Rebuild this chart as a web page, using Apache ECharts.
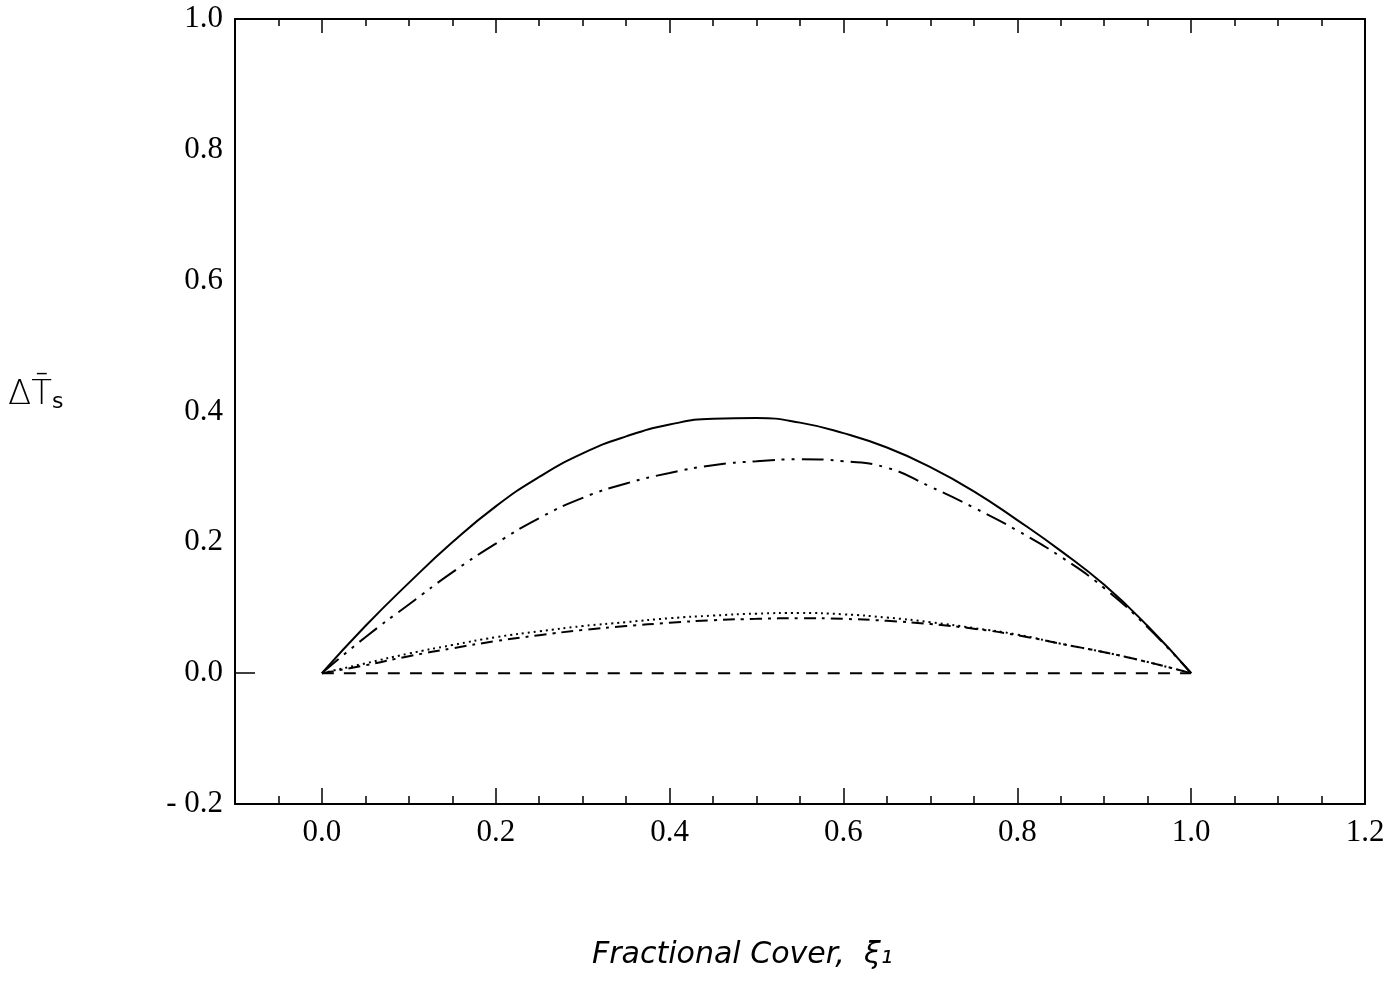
<!DOCTYPE html>
<html><head><meta charset="utf-8">
<script src="https://cdn.jsdelivr.net/npm/echarts@6/dist/echarts.min.js"></script>
<style>html,body{margin:0;padding:0;background:#fff}#c{width:1399px;height:995px}</style>
</head><body><div id="c"></div>
<script>
// ---- data ----
const xCover = [0,0.05,0.1,0.15,0.2,0.25,0.3,0.35,0.4,0.45,0.5,0.55,0.6,0.65,0.7,0.75,0.8,0.85,0.9,0.95,1.0];
const solidCurve = [0,0.072,0.138,0.2,0.255,0.3,0.336,0.362,0.38,0.389,0.39,0.383,0.367,0.345,0.315,0.278,0.234,0.187,0.135,0.072,0];
const dashDotDotCurve = [0,0.055,0.105,0.154,0.198,0.237,0.268,0.29,0.306,0.318,0.324,0.327,0.324,0.314,0.285,0.253,0.218,0.178,0.13,0.07,0];
const dottedCurve = [0,0.015,0.03,0.043,0.055,0.064,0.072,0.078,0.084,0.088,0.091,0.092,0.09,0.085,0.078,0.069,0.059,0.045,0.032,0.017,0];
const dashDotCurve = [0,0.012,0.026,0.038,0.049,0.058,0.066,0.072,0.077,0.081,0.083,0.084,0.083,0.08,0.075,0.068,0.058,0.045,0.032,0.017,0];
const zeroCurve = [0,0,0,0,0,0,0,0,0,0,0,0,0,0,0,0,0,0,0,0,0];
const xTickLabels = [0,0.2,0.4,0.6,0.8,1.0,1.2];
const yTickLabels = [-0.2,0,0.2,0.4,0.6,0.8,1.0];
const yTitle = 'ΔT\u0304';
const xTitle = 'Fractional Cover,  ξ₁';

const pairs = ys => xCover.map((x, i) => [x, ys[i]]);
const serif = '"Liberation Serif", "DejaVu Serif", serif';

const chart = echarts.init(document.getElementById('c'), null, {renderer: 'canvas'});
const xBase = {type: 'value', min: -0.1, max: 1.2, interval: 0.05, splitLine: {show: false}};
const lineSeries = (ys, type) => ({
  type: 'line', data: pairs(ys), smooth: 0.5, showSymbol: false, symbol: 'none',
  lineStyle: {color: '#000', width: 2, type: type}, xAxisIndex: 0, yAxisIndex: 0, silent: true
});
const axLine = {show: true, onZero: false, lineStyle: {color: '#000', width: 2}};
chart.setOption({
  animation: false,
  backgroundColor: '#fff',
  grid: {left: 235, right: 34, top: 19, bottom: 191, containLabel: false},
  xAxis: [
    Object.assign({}, xBase, {position: 'bottom',
      axisLine: axLine,
      axisTick: {show: true, inside: true, length: 8, lineStyle: {color: '#000', width: 1.5}},
      axisLabel: {show: true, customValues: xTickLabels, margin: 13, color: '#000', fontSize: 31, fontFamily: serif,
        formatter: v => v.toFixed(1)}}),
    Object.assign({}, xBase, {position: 'bottom',
      axisLine: {show: false, onZero: false},
      axisTick: {show: true, inside: true, length: 16, customValues: xTickLabels, lineStyle: {color: '#000', width: 1.5}},
      axisLabel: {show: false}}),
    Object.assign({}, xBase, {position: 'top',
      axisLine: axLine,
      axisTick: {show: true, inside: true, length: 7, lineStyle: {color: '#000', width: 1.5}},
      axisLabel: {show: false}}),
    Object.assign({}, xBase, {position: 'top',
      axisLine: {show: false, onZero: false},
      axisTick: {show: true, inside: true, length: 14, customValues: xTickLabels, lineStyle: {color: '#000', width: 1.5}},
      axisLabel: {show: false}})
  ],
  yAxis: [
    {type: 'value', min: -0.2, max: 1.0, interval: 0.2, position: 'left',
      splitLine: {show: false},
      axisLine: axLine,
      axisTick: {show: true, inside: true, length: 20, customValues: [0], lineStyle: {color: '#000', width: 1.5}},
      axisLabel: {show: true, customValues: yTickLabels, margin: 12, color: '#000', fontSize: 31, fontFamily: serif,
        formatter: v => v < -1e-9 ? '- ' + Math.abs(v).toFixed(1) : Math.abs(v).toFixed(1)}},
    {type: 'value', min: -0.2, max: 1.0, interval: 0.2, position: 'right',
      splitLine: {show: false},
      axisLine: axLine,
      axisTick: {show: false}, axisLabel: {show: false}}
  ],
  series: [
    lineSeries(solidCurve, 'solid'),
    lineSeries(dashDotDotCurve, [22, 7, 3, 7, 3, 7]),
    lineSeries(dottedCurve, [2, 4]),
    lineSeries(dashDotCurve, [12, 6, 3, 6]),
    lineSeries(zeroCurve, [12, 10])
  ],
  graphic: [
    {type: 'text', left: 8, top: 378, silent: true,
      style: {text: '{a|' + yTitle + '}{s|s}', rich: {
        a: {fontSize: 34, fontFamily: '"DejaVu Sans", sans-serif', fontWeight: 'lighter', fill: '#000'},
        s: {fontSize: 22, fontFamily: '"DejaVu Sans", sans-serif', fill: '#000', padding: [14, 0, 0, 0]}}}},
    {type: 'text', left: 592, top: 940, silent: true,
      style: {text: xTitle, fontSize: 30, fontStyle: 'italic', fontFamily: '"DejaVu Sans", sans-serif', fontWeight: 'lighter', fill: '#000'}}
  ]
});
</script></body></html>
